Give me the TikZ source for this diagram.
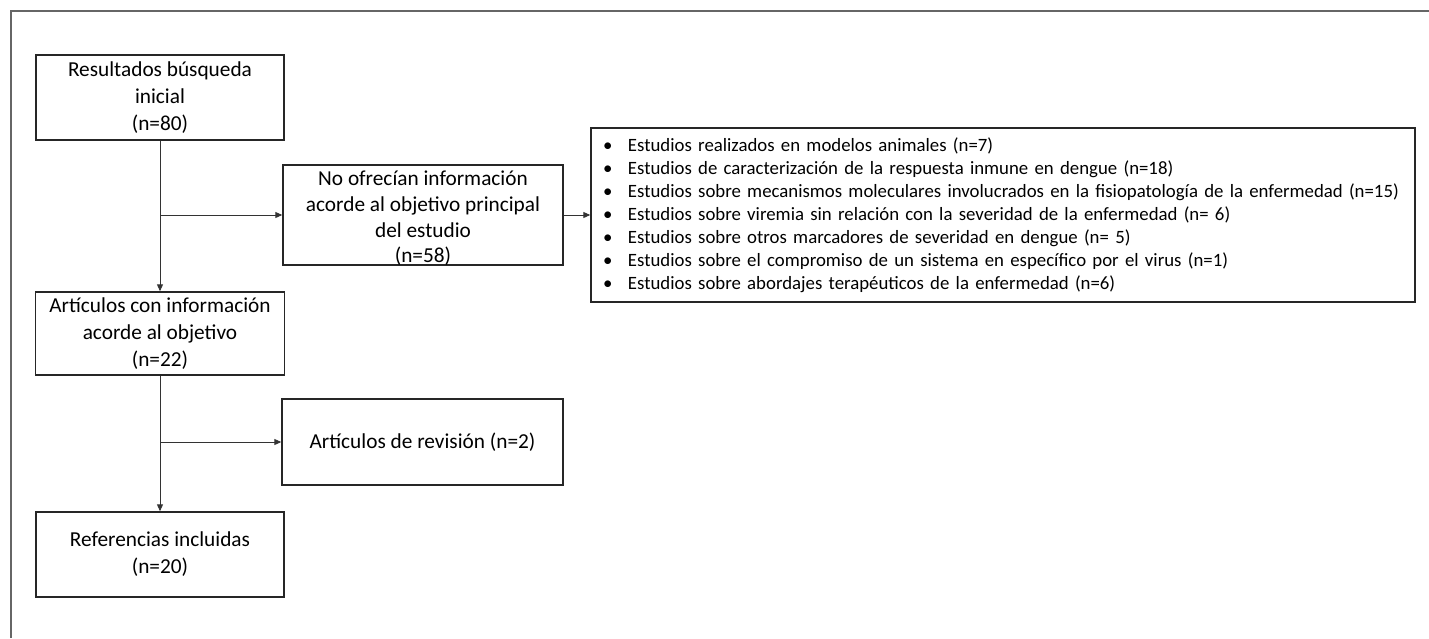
\documentclass[tikz,border=0pt]{standalone}
\usepackage{fontspec}
\setmainfont{Carlito}
\usetikzlibrary{arrows.meta}
\tikzset{
  boxnode/.style={draw=black!85, line width=1.4pt, align=center, inner sep=0pt, font=\fontsize{21.3}{27}\selectfont, text=black},
  textonly/.style={align=center, inner sep=0pt, font=\fontsize{21.3}{25.6}\selectfont, text=black},
  listnode/.style={draw=black!85, line width=1.4pt, align=left, inner xsep=12pt, inner ysep=0pt, font=\fontsize{18.8}{23}\selectfont, text=black},
  conn/.style={draw=black!80, line width=0.9pt, -{Triangle[length=7pt,width=6pt]}},
  framel/.style={draw=black!60, line width=1.6pt}
}
\newcommand{\bitem}[1]{\makebox[25pt][l]{•}#1}
\begin{document}
\begin{tikzpicture}[x=1pt,y=-1pt]
\useasboundingbox (0,0) rectangle (1429,638);
\coordinate (fa) at (11,638);
\coordinate (fb) at (11,11);
\coordinate (fc) at (1429,11);
\draw[framel] (fa) -- (fb) -- (fc);
\node[boxnode, minimum width=248pt, minimum height=85pt] (b1) at (160,97.5) {Resultados búsqueda\\inicial\\(n=80)};
\node[boxnode, minimum width=280pt, minimum height=100pt] (b2) at (423,215) {};
\node[textonly] (b2t) at (423,218.5) {No ofrecían información\\acorde al objetivo principal\\del estudio\\(n=58)};
\node[listnode, text width=800pt, minimum height=174pt] (l1) at (1003,215) {\bitem{Estudios realizados en modelos animales (n=7)}\\
\bitem{Estudios de caracterización de la respuesta inmune en dengue (n=18)}\\
\bitem{Estudios sobre mecanismos moleculares involucrados en la fisiopatología de la enfermedad (n=15)}\\
\bitem{Estudios sobre viremia sin relación con la severidad de la enfermedad (n= 6)}\\
\bitem{Estudios sobre otros marcadores de severidad en dengue (n= 5)}\\
\bitem{Estudios sobre el compromiso de un sistema en específico por el virus (n=1)}\\
\bitem{Estudios sobre abordajes terapéuticos de la enfermedad (n=6)}};
\node[boxnode, minimum width=249pt, minimum height=83pt] (b3) at (160,333.5) {Artículos con información\\acorde al objetivo\\(n=22)};
\node[boxnode, minimum width=281pt, minimum height=86pt] (b4) at (422.5,442) {Artículos de revisión (n=2)};
\node[boxnode, minimum width=248pt, minimum height=85pt] (b5) at (160,554.5) {Referencias incluidas\\(n=20)};
\coordinate (j1) at (b1.south |- b2.west);
\coordinate (j2) at (b3.south |- b4.west);
\draw[conn] (b1.south) -- (b3.north);
\draw[conn] (j1) -- (b2.west);
\draw[conn] (b2.east) -- (l1.west);
\draw[conn] (b3.south) -- (b5.north);
\draw[conn] (j2) -- (b4.west);
\end{tikzpicture}
\end{document}
